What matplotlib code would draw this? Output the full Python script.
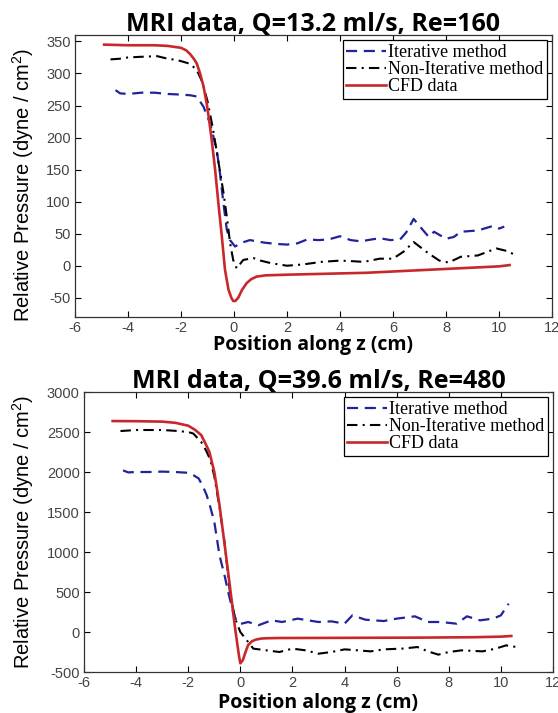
import numpy as np
import matplotlib
matplotlib.use("Agg")
import matplotlib.pyplot as plt

# ---- Data: Q = 13.2 ml/s, Re = 160 ----
z_cfd_160 = [-4.9, -4.0, -3.0, -2.5, -2.0, -1.8, -1.65, -1.5, -1.4, -1.28, -1.15, -1.03, -0.93,
             -0.84, -0.71, -0.59, -0.46, -0.34, -0.21, -0.1, -0.03, 0.05, 0.16, 0.3, 0.48, 0.65,
             0.85, 1.2, 2.0, 3.0, 4.0, 5.0, 6.0, 7.0, 8.0, 9.0, 10.0, 10.4]
p_cfd_160 = [345, 344, 344, 343, 340, 336, 330, 322, 315, 300, 280, 253, 225,
             196, 149, 98, 46, -6, -37, -50, -55, -55, -50, -38, -27, -21,
             -17, -15, -14, -13, -12, -11, -9, -7, -5, -3, -1, 1]

z_iter_160 = [-4.47, -4.3, -4.0, -3.5, -3.0, -2.5, -2.0, -1.65, -1.4, -1.15, -0.9, -0.65, -0.53,
              -0.4, -0.27, -0.15, 0.04, 0.3, 0.6, 1.15, 1.6, 2.0, 2.4, 2.76, 3.2, 3.57, 4.0,
              4.4, 4.8, 5.05, 5.5, 5.9, 6.27, 6.5, 6.78, 7.0, 7.35, 7.55, 8.0, 8.3, 8.56,
              9.2, 9.77, 10.0, 10.2]
p_iter_160 = [274, 269, 268, 270, 270, 268, 267, 266, 264, 248, 222, 180, 145,
              98, 56, 40, 30, 36, 40, 36, 34, 33, 35, 41, 40, 41, 46,
              40, 38, 40, 43, 40, 41, 52, 73, 62, 45, 53, 42, 45, 53,
              55, 62, 58, 61]

z_noniter_160 = [-4.66, -4.3, -4.0, -3.5, -2.9, -2.5, -2.15, -1.65, -1.4, -1.2, -1.0, -0.8, -0.6,
                 -0.4, -0.25, -0.15, -0.03, 0.1, 0.35, 0.73, 1.0, 1.4, 2.0, 2.6, 3.3, 4.0, 4.5,
                 4.9, 5.5, 6.0, 6.4, 6.78, 7.0, 7.35, 7.75, 8.1, 8.56, 9.2, 9.9, 10.3, 10.6]
p_noniter_160 = [322, 323, 325, 326, 327, 323, 321, 315, 305, 287, 257, 215, 165,
                 115, 70, 36, 9, -4, 9, 12, 8, 4, 0, 2, 6, 8, 7,
                 6, 11, 11, 22, 37, 30, 19, 8, 5, 14, 16, 27, 23, 17]

# ---- Data: Q = 39.6 ml/s, Re = 480 ----
z_cfd_480 = [-4.9, -4.0, -3.0, -2.5, -2.0, -1.75, -1.5, -1.3, -1.19, -1.0, -0.8, -0.6, -0.39,
             -0.2, -0.11, -0.05, 0.0, 0.1, 0.2, 0.3, 0.45, 0.6, 0.8, 1.0, 1.5, 3.0, 5.0, 7.0,
             9.0, 10.0, 10.4]
p_cfd_480 = [2637, 2635, 2630, 2615, 2579, 2530, 2462, 2330, 2254, 2004, 1588, 1088, 546,
             46, -163, -300, -392, -350, -250, -163, -115, -95, -82, -78, -75, -74, -72, -70,
             -65, -58, -50]

z_iter_480 = [-4.5, -4.3, -4.0, -3.5, -3.0, -2.5, -2.0, -1.8, -1.6, -1.45, -1.29, -1.15, -1.0,
              -0.8, -0.6, -0.45, -0.3, -0.15, 0.0, 0.3, 0.7, 1.2, 1.6, 2.2, 2.6, 3.0, 3.5,
              4.0, 4.3, 4.8, 5.5, 6.0, 6.7, 7.2, 7.7, 8.3, 8.7, 9.2, 9.7, 10.0, 10.3]
p_iter_480 = [2020, 1995, 2000, 2000, 2005, 2000, 1990, 1960, 1920, 1830, 1710, 1560, 1380,
              960, 700, 480, 280, 140, 100, 125, 85, 146, 125, 167, 146, 125, 133,
              104, 208, 154, 137, 167, 196, 125, 125, 104, 196, 146, 167, 208, 354]

z_noniter_480 = [-4.6, -4.0, -3.0, -2.5, -2.0, -1.8, -1.5, -1.3, -1.15, -1.0, -0.8, -0.6, -0.4,
                 -0.3, -0.2, 0.0, 0.2, 0.5, 1.0, 1.5, 2.0, 2.5, 3.0, 3.5, 4.0, 4.5, 5.0,
                 5.5, 6.2, 6.8, 7.2, 7.6, 8.0, 8.5, 9.3, 9.8, 10.2, 10.6]
p_noniter_480 = [2512, 2525, 2525, 2515, 2500, 2480, 2375, 2260, 2150, 1950, 1560, 1110, 500,
                 330, 170, 0, -83, -208, -229, -250, -208, -229, -271, -250, -217, -229, -242,
                 -217, -208, -188, -242, -283, -250, -229, -242, -208, -167, -188]

legend_labels = ["Iterative method", "Non-Iterative method", "CFD data"]

BLUE = "#22229a"
RED = "#c8282b"
TICK_COLOR = "#444444"


# Draw one MATLAB-style panel
def draw_panel(ax, title, series, ylim, yticks, ylabel_xy, xlabel_pad):
    (zi, pi), (zn, pn), (zc, pc) = series
    ax.plot(zi, pi, color=BLUE, lw=1.6, dashes=(5, 3), label=legend_labels[0])
    ax.plot(zn, pn, color="black", lw=1.5, dashes=(5, 2.5, 1, 2.5), label=legend_labels[1])
    ax.plot(zc, pc, color=RED, lw=1.9, label=legend_labels[2])

    ax.set_xlim(-6, 12)
    ax.set_ylim(*ylim)
    ax.set_xticks(np.arange(-6, 13, 2))
    ax.set_yticks(yticks)
    ax.tick_params(direction="in", top=True, right=True, length=4, width=0.8,
                   labelsize=10.5, labelcolor=TICK_COLOR, pad=3)
    for lab in ax.get_xticklabels() + ax.get_yticklabels():
        lab.set_family("Liberation Sans")
    for sp in ax.spines.values():
        sp.set_color("#333333")
        sp.set_linewidth(0.9)

    ax.set_title(title, fontsize=18, fontweight="bold", family="Open Sans",
                 y=1.0, pad=3)
    ax.set_xlabel("Position along z (cm)", fontsize=14, fontweight="bold",
                  family="Open Sans", labelpad=xlabel_pad)
    ax.set_ylabel("Relative Pressure (dyne / cm$^2$)", fontsize=14.5,
                  family="Liberation Sans")
    ax.yaxis.set_label_coords(*ylabel_xy)

    leg = ax.legend(loc="upper right", prop={"family": "Liberation Serif", "size": 13},
                    fancybox=False, framealpha=1, edgecolor="black", borderaxespad=0.3,
                    labelspacing=0.0, borderpad=0.2, handlelength=2.2, handletextpad=0.1)
    leg.get_frame().set_linewidth(0.9)


def main():
    plt.rcParams["axes.unicode_minus"] = False
    plt.rcParams["mathtext.fontset"] = "custom"
    plt.rcParams["mathtext.rm"] = "Liberation Sans"
    fig = plt.figure(figsize=(5.58, 7.13), dpi=100)

    ax1 = fig.add_axes([0.1344, 0.5554, 0.8548, 0.3955])
    draw_panel(ax1, "MRI data, Q=13.2 ml/s, Re=160",
               [(z_iter_160, p_iter_160), (z_noniter_160, p_noniter_160), (z_cfd_160, p_cfd_160)],
               (-80, 360), np.arange(-50, 351, 50), (-0.082, 0.47), 0)

    ax2 = fig.add_axes([0.1505, 0.0575, 0.8405, 0.3927])
    draw_panel(ax2, "MRI data, Q=39.6 ml/s, Re=480",
               [(z_iter_480, p_iter_480), (z_noniter_480, p_noniter_480), (z_cfd_480, p_cfd_480)],
               (-500, 3000), np.arange(-500, 3001, 500), (-0.102, 0.5), 2)

    fig.savefig("out.png", dpi=100)


main()
